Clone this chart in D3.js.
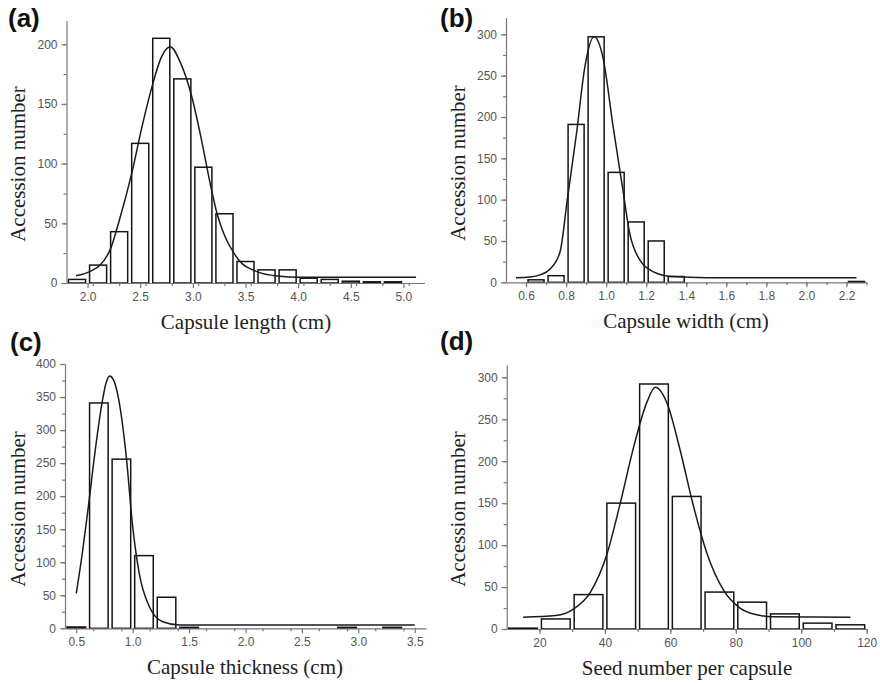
<!DOCTYPE html>
<html>
<head>
<meta charset="utf-8">
<script src="https://cdn.jsdelivr.net/npm/d3@7.9.0/dist/d3.min.js"></script>
<style>
  body { margin: 0; background: #fff; }
</style>
</head>
<body>
<svg id="chart" width="880" height="684"></svg>
<script>
// (a) capsule length, bins of 0.2 cm
const lengthBinStart = [1.8, 2.0, 2.2, 2.4, 2.6, 2.8, 3.0, 3.2, 3.4, 3.6, 3.8, 4.0, 4.2, 4.4, 4.6, 4.8];
const lengthCounts = [3, 15, 43, 117, 205, 171, 97, 58, 18, 11, 11, 4, 3, 1.5, 1, 1];
const lengthFit = [[1.89, 6], [2.03, 10], [2.12, 15], [2.22, 29], [2.3, 52], [2.42, 92], [2.52, 132],
  [2.62, 167], [2.7, 189], [2.785, 198], [2.88, 185], [2.99, 156], [3.07, 125], [3.18, 77], [3.23, 58],
  [3.3, 40], [3.39, 25], [3.47, 16], [3.58, 10.5], [3.8, 5.8], [4.02, 4.8], [5.12, 4.8]];
const lengthTicks = [2.0, 2.5, 3.0, 3.5, 4.0, 4.5, 5.0];

// (b) capsule width, bins of 0.1 cm
const widthBinStart = [0.6, 0.7, 0.8, 0.9, 1.0, 1.1, 1.2, 1.3, 2.2];
const widthCounts = [3, 8, 191, 297, 133, 73, 50, 7, 1];
const widthFit = [[0.55, 5.6], [0.62, 6.5], [0.67, 9], [0.72, 16], [0.77, 37], [0.806, 100], [0.852, 180],
  [0.894, 261], [0.94, 297], [0.985, 271], [1.035, 188], [1.081, 116], [1.118, 59], [1.168, 27],
  [1.234, 13], [1.33, 7], [1.5, 5.6], [2.25, 5.6]];
const widthTicks = [0.6, 0.8, 1.0, 1.2, 1.4, 1.6, 1.8, 2.0, 2.2];

// (c) capsule thickness, bins of 0.2 cm
const thickBinStart = [0.4, 0.6, 0.8, 1.0, 1.2, 1.4, 2.8, 3.2];
const thickCounts = [2, 341, 256, 110, 47, 1.5, 1.5, 1.5];
const thickFit = [[0.5, 53], [0.553, 113], [0.607, 184], [0.672, 275], [0.732, 345], [0.765, 372],
  [0.797, 382], [0.83, 376], [0.865, 356], [0.94, 265], [1.0, 154], [1.058, 83], [1.147, 33],
  [1.266, 10], [1.415, 5], [3.5, 5]];
const thickTicks = [0.5, 1.0, 1.5, 2.0, 2.5, 3.0, 3.5];

// (d) seed number per capsule, bins of 10
const seedBinStart = [10, 20, 30, 40, 50, 60, 70, 80, 90, 100, 110];
const seedCounts = [1, 12, 41, 150, 292, 158, 44, 32, 18, 7, 5];
const seedFit = [[15, 14], [25, 16], [30.5, 24], [35.6, 44], [40.7, 90], [44.7, 150], [48.8, 217],
  [52.9, 271], [55.4, 288], [59, 269], [63, 213], [67.1, 146], [71.2, 90], [76.3, 46], [81.3, 25],
  [86.4, 17], [91.5, 14.5], [115, 14]];
const seedTicks = [20, 40, 60, 80, 100, 120];

const svg = d3.select('#chart');
const axisColor = '#777';
const labelColor = '#555';

function drawPanel(p) {
    const g = svg.append('g');

    const x = d3.scaleLinear().domain(p.xDomain).range(p.xRange);
    const y = d3.scaleLinear().domain(p.yDomain).range(p.yRange);

    const bins = p.starts.map((s, i) => ({ s: s, n: p.counts[i] }));

    g.selectAll('rect')
        .data(bins)
        .join('rect')
        .attr('x', d => x(d.s) + 2)
        .attr('width', d => x(d.s + p.binWidth) - x(d.s) - 4)
        .attr('y', d => y(d.n))
        .attr('height', d => y(0) - y(d.n))
        .attr('fill', '#fff')
        .attr('stroke', '#151515')
        .attr('stroke-width', 1.5);

    const line = d3.line()
        .x(d => x(d[0]))
        .y(d => y(d[1]))
        .curve(d3.curveMonotoneX);

    g.append('path')
        .datum(p.fit)
        .attr('d', line)
        .attr('fill', 'none')
        .attr('stroke', '#1a1a1a')
        .attr('stroke-width', 1.5);

    // minor ticks
    const xMinor = d3.range(p.xDomain[0], p.xDomain[1] + 1e-9, p.xMinorStep)
        .filter(v => v > p.xDomain[0] + 1e-9);
    g.append('g')
        .attr('transform', `translate(0,${y(0)})`)
        .call(d3.axisBottom(x).tickValues(xMinor).tickFormat('').tickSize(3).tickSizeOuter(0))
        .call(a => a.select('.domain').remove());

    const yMinor = d3.range(0, p.yDomain[1] + 1e-9, 25);
    g.append('g')
        .attr('transform', `translate(${p.xRange[0]},0)`)
        .call(d3.axisLeft(y).tickValues(yMinor).tickFormat('').tickSize(3).tickSizeOuter(0))
        .call(a => a.select('.domain').remove());

    // main axes
    const xAxis = g.append('g')
        .attr('transform', `translate(0,${y(0)})`)
        .call(d3.axisBottom(x).tickValues(p.xTicks).tickFormat(d3.format(p.xFormat)).tickSize(5).tickPadding(4).tickSizeOuter(0));

    const yAxis = g.append('g')
        .attr('transform', `translate(${p.xRange[0]},0)`)
        .call(d3.axisLeft(y).tickValues(p.yTicks).tickFormat(d3.format('d')).tickSize(5).tickPadding(4).tickSizeOuter(0));

    g.selectAll('.domain, .tick line').attr('stroke', axisColor).attr('stroke-width', 1.2);
    [xAxis, yAxis].forEach(a => a.selectAll('text')
        .attr('fill', labelColor)
        .style('font-family', '"Liberation Sans", Arial, sans-serif')
        .style('font-size', '12px'));

    // axis titles
    g.append('text')
        .attr('x', p.xTitleX)
        .attr('y', y(0) + 46)
        .attr('text-anchor', 'middle')
        .style('font-family', '"Liberation Serif", "Times New Roman", serif')
        .style('font-size', '21px')
        .attr('fill', '#222')
        .text(p.xTitle);

    g.append('text')
        .attr('transform', `translate(${p.yTitleX},${p.yTitleY}) rotate(-90)`)
        .attr('text-anchor', 'middle')
        .style('font-family', '"Liberation Serif", "Times New Roman", serif')
        .style('font-size', '21px')
        .attr('fill', '#222')
        .text('Accession number');

    g.append('text')
        .attr('x', p.labelX)
        .attr('y', p.labelY)
        .style('font-family', '"Liberation Sans", Arial, sans-serif')
        .style('font-weight', 'bold')
        .style('font-size', '26px')
        .attr('fill', '#111')
        .text(p.label);
}

drawPanel({
    label: '(a)', labelX: 8, labelY: 27,
    starts: lengthBinStart, counts: lengthCounts, fit: lengthFit, binWidth: 0.2,
    xDomain: [1.8, 5.2], xRange: [66.5, 424.5], xTicks: lengthTicks, xMinorStep: 0.25, xFormat: '.1f',
    yDomain: [0, 220], yRange: [283, 20.4], yTicks: [0, 50, 100, 150, 200],
    xTitle: 'Capsule length (cm)', xTitleX: 246, yTitleX: 25, yTitleY: 164
});

drawPanel({
    label: '(b)', labelX: 440, labelY: 27,
    starts: widthBinStart, counts: widthCounts, fit: widthFit, binWidth: 0.1,
    xDomain: [0.5, 2.3], xRange: [506, 866.5], xTicks: widthTicks, xMinorStep: 0.1, xFormat: '.1f',
    yDomain: [0, 320], yRange: [282.3, 17.8], yTicks: [0, 50, 100, 150, 200, 250, 300],
    xTitle: 'Capsule width (cm)', xTitleX: 686, yTitleX: 465, yTitleY: 163
});

drawPanel({
    label: '(c)', labelX: 10, labelY: 351,
    starts: thickBinStart, counts: thickCounts, fit: thickFit, binWidth: 0.2,
    xDomain: [0.4, 3.6], xRange: [65, 426], xTicks: thickTicks, xMinorStep: 0.25, xFormat: '.1f',
    yDomain: [0, 400], yRange: [628.3, 364], yTicks: [0, 50, 100, 150, 200, 250, 300, 350, 400],
    xTitle: 'Capsule thickness (cm)', xTitleX: 245, yTitleX: 25, yTitleY: 509
});

drawPanel({
    label: '(d)', labelX: 440, labelY: 350,
    starts: seedBinStart, counts: seedCounts, fit: seedFit, binWidth: 10,
    xDomain: [10, 120], xRange: [506.7, 866.7], xTicks: seedTicks, xMinorStep: 10, xFormat: 'd',
    yDomain: [0, 315], yRange: [629, 364.7], yTicks: [0, 50, 100, 150, 200, 250, 300],
    xTitle: 'Seed number per capsule', xTitleX: 687, yTitleX: 465, yTitleY: 509
});
</script>
</body>
</html>
